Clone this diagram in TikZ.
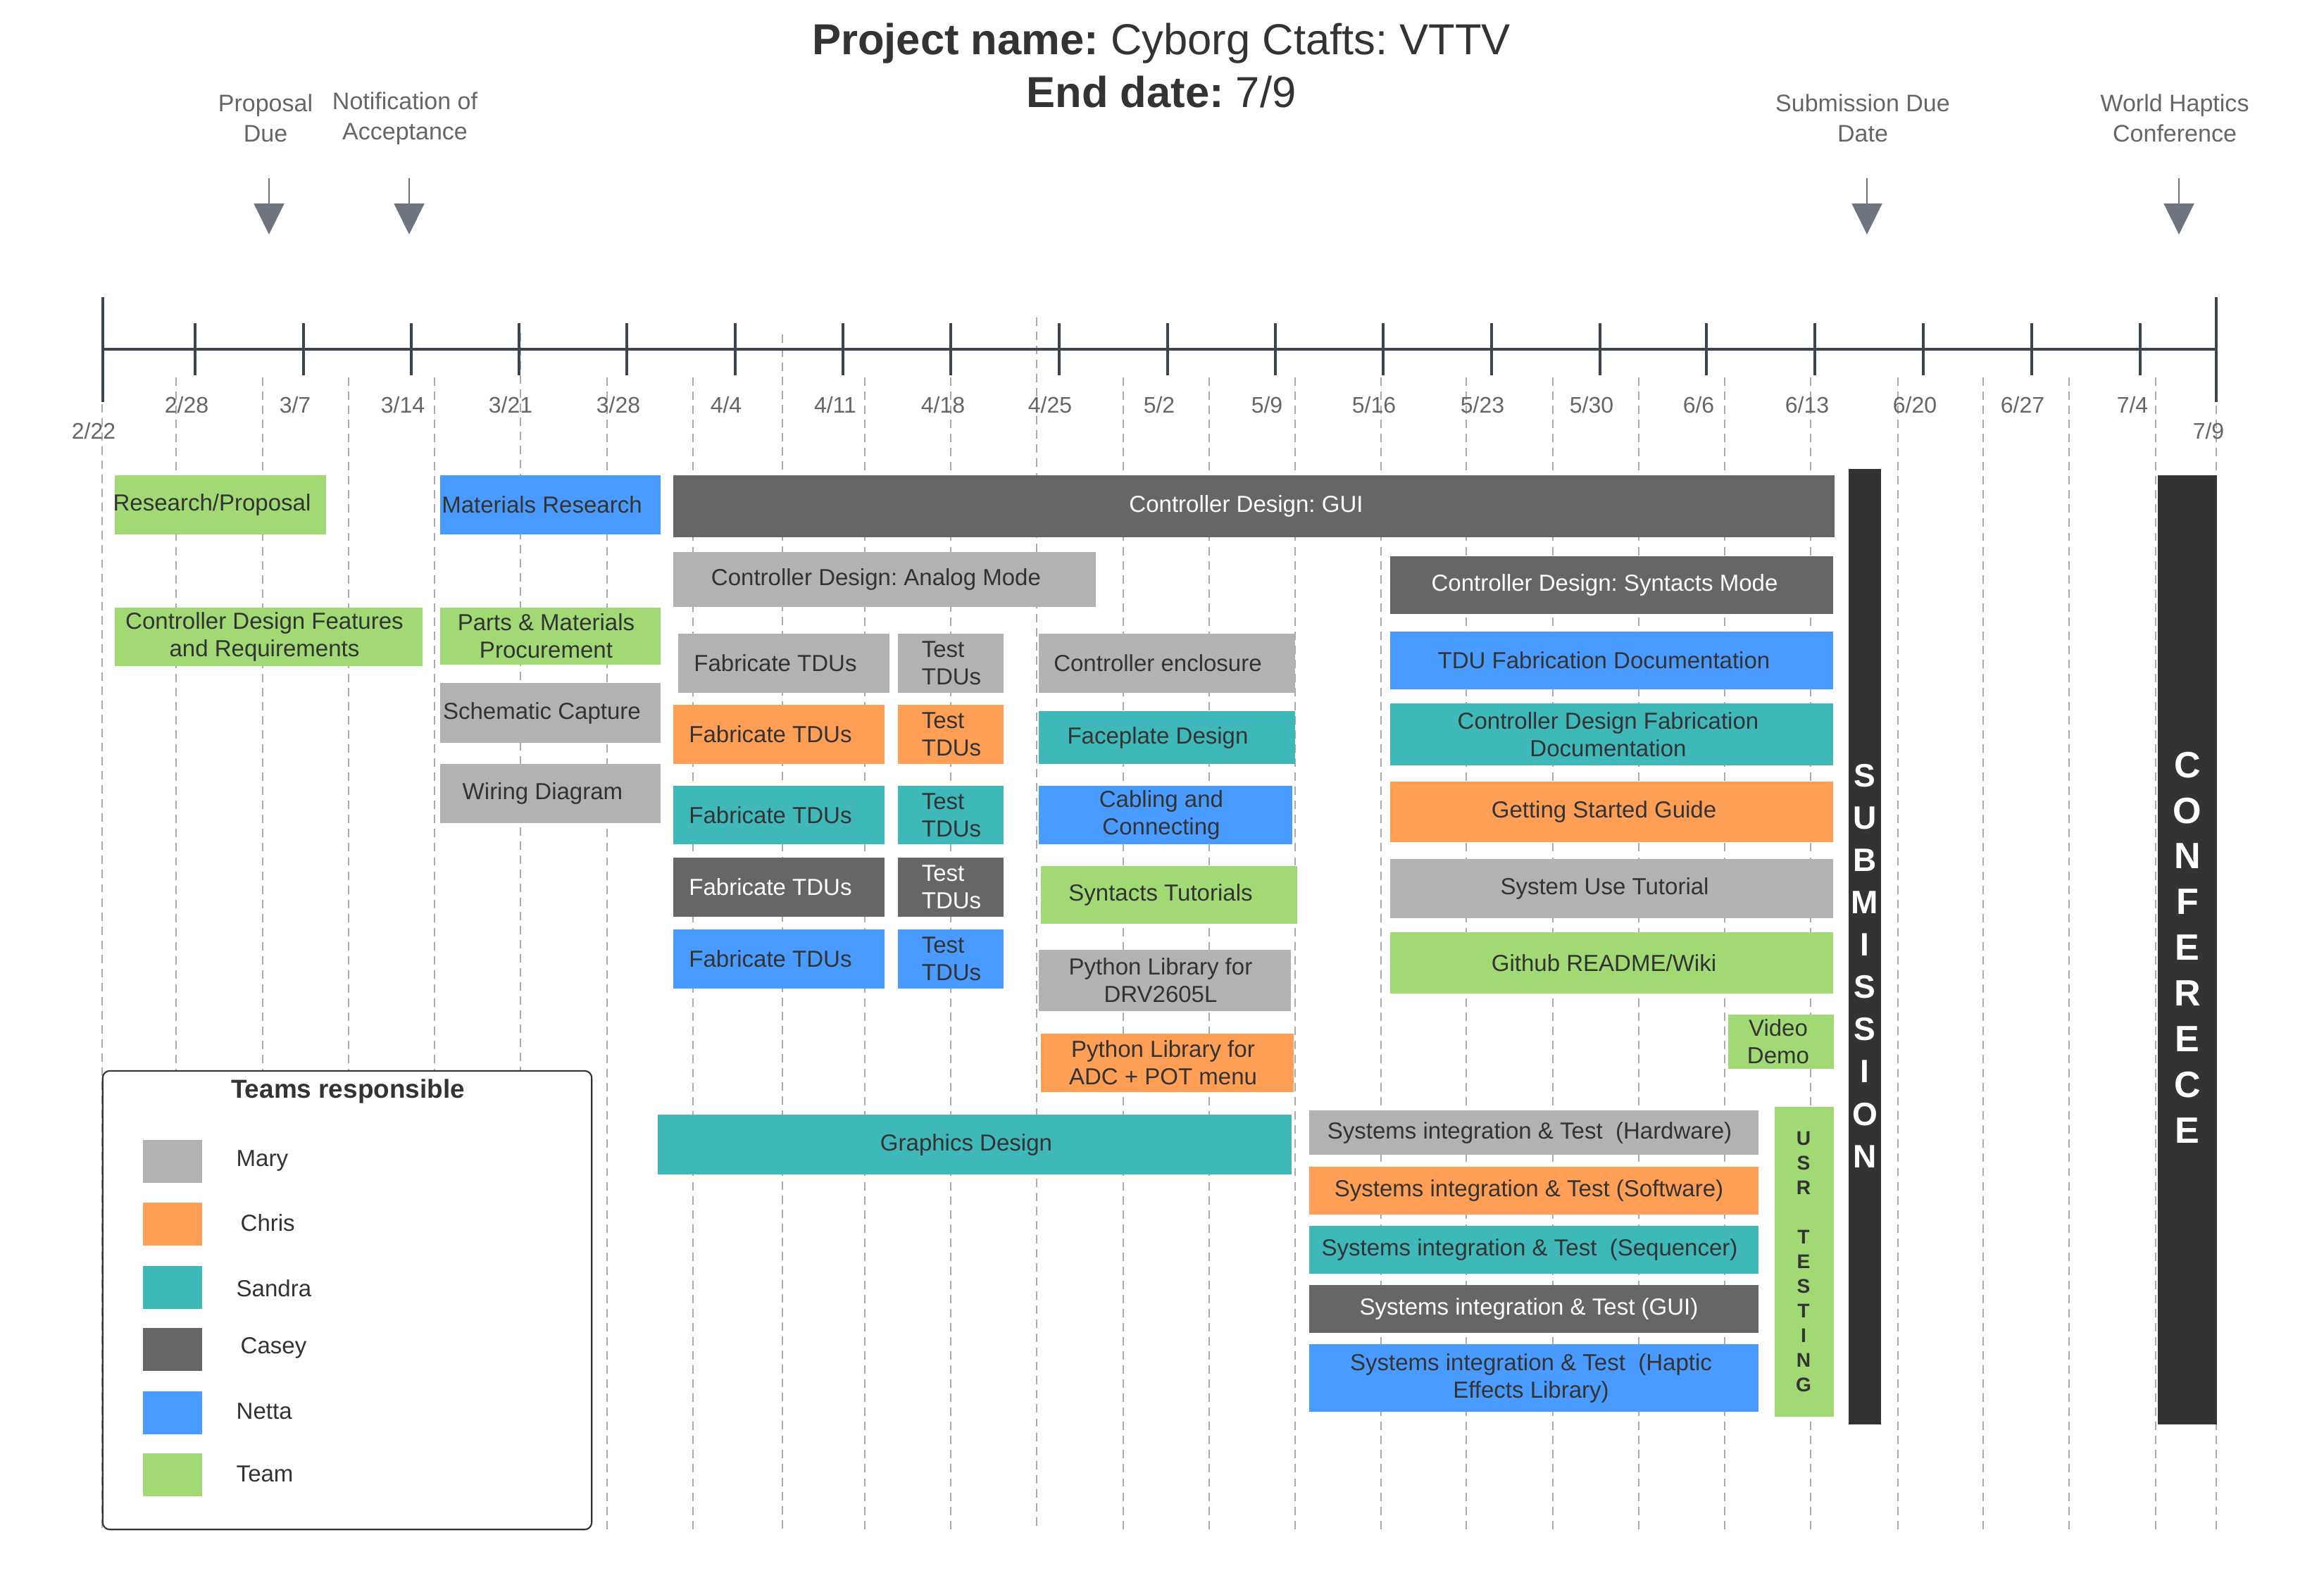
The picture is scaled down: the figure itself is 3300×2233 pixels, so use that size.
\documentclass[tikz,border=0pt]{standalone}
\usepackage{fontspec}
\setmainfont{Liberation Sans}
\usetikzlibrary{arrows.meta}
\frenchspacing
\definecolor{cMary}{HTML}{B2B2B2}
\definecolor{cChris}{HTML}{FF9F55}
\definecolor{cSandra}{HTML}{3EB8B8}
\definecolor{cCasey}{HTML}{666666}
\definecolor{cNetta}{HTML}{4A9BFF}
\definecolor{cTeam}{HTML}{A1D974}
\definecolor{cDark}{HTML}{333333}
\definecolor{cText}{HTML}{333333}
\definecolor{cLabel}{HTML}{666666}
\definecolor{cAxis}{HTML}{3B4550}
\definecolor{cArrow}{HTML}{6E757E}
\definecolor{cGrid}{HTML}{ABABAB}
\tikzset{
  taskbox/.style={draw=none, inner sep=0pt, outer sep=0pt},
  tasktext/.style={font=\fontsize{9.39}{11.1}\selectfont, align=center, inner sep=0pt, text=cText},
  wt/.style={text=white},
  dk/.style={text=cText},
  lt/.style={text=cText, align=left},
  ltw/.style={text=white, align=left},
  gridline/.style={draw=cGrid, line width=0.8pt, dash pattern=on 3.4pt off 2.3pt},
  axisline/.style={draw=cAxis, line width=1pt},
  mile/.style={draw=cArrow, line width=0.6pt, -{Triangle[length=12.5pt,width=12.2pt]}},
  milelbl/.style={font=\fontsize{9.67}{12.1}\selectfont, text=cLabel, align=center, inner sep=0pt},
  datelbl/.style={font=\fontsize{9.1}{11}\selectfont, text=cLabel, inner sep=0pt},
  swatch/.style={draw=none, minimum width=0.84cm, minimum height=0.61cm, inner sep=0pt},
  leglabel/.style={font=\fontsize{9.39}{11.1}\selectfont, text=cText, anchor=west, inner sep=0pt},
}
\newcommand\gtask[9]{%
  \node[taskbox, fill=#6, minimum width={(#4-#2)*0.01cm}, minimum height={(#5-#3)*0.01cm}] (#1) at ({(#2+#4)/2},{(#3+#5)/2}) {};
  \node[tasktext, #7] (#1-t) at ([xshift={#8*0.01cm}]#1.center) {#9};
}
\begin{document}
\frenchspacing
\begin{tikzpicture}[x=0.01cm,y=-0.01cm]
\useasboundingbox (0,0) rectangle (3300,2233);
\fill[white] (0,0) rectangle (3300,2233);
% grid
\foreach \xx/\ys in {145/574,250/536,373/536,495/536,617/536,739/473,862/536,984/536,1111/475,1228/536,1350/536,1472/451,1595/536,1717/536,1839/536,1961/536,2082/536,2205/536,2327/536,2449/536,2571/536,2695/536,2816/536,2938/536,3061/536,3147/576}
  \draw[gridline] (\xx,\ys) -- (\xx,2172);
% title
\node[font=\fontsize{17.5}{21.3}\selectfont, text=cText, align=center, inner sep=0pt] (title) at (1649,93) {\textbf{Project name:} Cyborg Ctafts: VTTV\\\textbf{End date:} 7/9};
% axis
\draw[axisline] (146,496) -- (3147,496);
\draw[axisline] (146,422) -- (146,571);
\draw[axisline] (3147,422) -- (3147,571);
\foreach \xx in {277,431,584,737,890,1044,1197,1350,1504,1658,1811,1964,2118,2272,2423,2577,2731,2885,3039}
  \draw[axisline] (\xx,459) -- (\xx,533);
% dates
\foreach \xx/\lb [count=\i] in {265/{2/28},419/{3/7},572/{3/14},725/{3/21},878/{3/28},1031/{4/4},1186/{4/11},1339/{4/18},1491/{4/25},1646/{5/2},1799/{5/9},1951/{5/16},2105/{5/23},2260/{5/30},2412/{6/6},2566/{6/13},2719/{6/20},2872/{6/27},3028/{7/4}}
  \node[datelbl] (date\i) at (\xx,575) {\lb};
\node[datelbl] (dstart) at (133,612) {2/22};
\node[datelbl] (dend) at (3136,612) {7/9};
% milestones
\node[milelbl] (ml1) at (377,168) {Proposal\\Due};
\node[milelbl] (ml2) at (575,168) {Notification of\\Acceptance};
\node[milelbl] (ml3) at (2645,168) {Submission Due\\Date};
\node[milelbl] (ml4) at (3088,168) {World Haptics\\Conference};
\coordinate (m1a) at (382,253); \coordinate (m1b) at (382,333);
\coordinate (m2a) at (581,253); \coordinate (m2b) at (581,333);
\coordinate (m3a) at (2651,253); \coordinate (m3b) at (2651,333);
\coordinate (m4a) at (3094,253); \coordinate (m4b) at (3094,333);
\draw[mile] (m1a) -- (m1b);
\draw[mile] (m2a) -- (m2b);
\draw[mile] (m3a) -- (m3b);
\draw[mile] (m4a) -- (m4b);
% column 1
\gtask{rp}{163}{675}{463}{759}{cTeam}{dk}{-12}{Research/Proposal}
\gtask{cdf}{163}{863}{600}{946}{cTeam}{dk}{-6}{Controller Design Features\\and Requirements}
% column 2
\gtask{mr}{625}{675}{938}{759}{cNetta}{dk}{-12}{Materials Research}
\gtask{pmp}{625}{863}{938}{944}{cTeam}{dk}{-6}{Parts \& Materials\\Procurement}
\gtask{sc}{625}{970}{938}{1055}{cMary}{dk}{-12}{Schematic Capture}
\gtask{wd}{625}{1085}{938}{1169}{cMary}{dk}{-11}{Wiring Diagram}
% column 3
\gtask{gui}{956}{675}{2605}{763}{cCasey}{wt}{-11}{Controller Design: GUI}
\gtask{am}{956}{784}{1556}{862}{cMary}{dk}{-12}{Controller Design: Analog Mode}
\gtask{f1}{963}{900}{1263}{984}{cMary}{dk}{-12}{Fabricate TDUs}
\gtask{t1}{1275}{900}{1425}{984}{cMary}{lt}{1}{Test\\TDUs}
\gtask{f2}{956}{1001}{1256}{1085}{cChris}{dk}{-12}{Fabricate TDUs}
\gtask{t2}{1275}{1001}{1425}{1085}{cChris}{lt}{1}{Test\\TDUs}
\gtask{f3}{956}{1116}{1256}{1199}{cSandra}{dk}{-12}{Fabricate TDUs}
\gtask{t3}{1275}{1116}{1425}{1199}{cSandra}{lt}{1}{Test\\TDUs}
\gtask{f4}{956}{1218}{1256}{1302}{cCasey}{wt}{-12}{Fabricate TDUs}
\gtask{t4}{1275}{1218}{1425}{1302}{cCasey}{ltw}{1}{Test\\TDUs}
\gtask{f5}{956}{1320}{1256}{1404}{cNetta}{dk}{-12}{Fabricate TDUs}
\gtask{t5}{1275}{1320}{1425}{1404}{cNetta}{lt}{1}{Test\\TDUs}
% column 4
\gtask{ce}{1475}{900}{1839}{984}{cMary}{dk}{-13}{Controller enclosure}
\gtask{fd}{1475}{1010}{1839}{1085}{cSandra}{dk}{-13}{Faceplate Design}
\gtask{cc}{1475}{1116}{1835}{1199}{cNetta}{dk}{-6}{Cabling and\\Connecting}
\gtask{st}{1478}{1230}{1842}{1312}{cTeam}{dk}{-12}{Syntacts Tutorials}
\gtask{pl1}{1475}{1349}{1833}{1436}{cMary}{dk}{-6}{Python Library for\\DRV2605L}
\gtask{pl2}{1478}{1468}{1837}{1551}{cChris}{dk}{-6}{Python Library for\\ADC + POT menu}
\gtask{gd}{934}{1583}{1834}{1668}{cSandra}{dk}{-12}{Graphics Design}
% column 5
\gtask{sm}{1974}{790}{2603}{872}{cCasey}{wt}{-10}{Controller Design: Syntacts Mode}
\gtask{tfd}{1974}{897}{2603}{979}{cNetta}{dk}{-11}{TDU Fabrication Documentation}
\gtask{cdfd}{1974}{999}{2603}{1087}{cSandra}{dk}{-5}{Controller Design Fabrication\\Documentation}
\gtask{gsg}{1974}{1110}{2603}{1196}{cChris}{dk}{-11}{Getting Started Guide}
\gtask{sut}{1974}{1220}{2603}{1304}{cMary}{dk}{-10}{System Use Tutorial}
\gtask{gh}{1974}{1324}{2603}{1411}{cTeam}{dk}{-11}{Github README/Wiki}
\gtask{vd}{2454}{1441}{2604}{1518}{cTeam}{dk}{-4}{Video\\Demo}
\gtask{sia}{1859}{1577}{2497}{1640}{cMary}{dk}{-6}{Systems integration \& Test\ \ (Hardware)}
\gtask{sib}{1859}{1657}{2497}{1725}{cChris}{dk}{-7}{Systems integration \& Test (Software)}
\gtask{sic}{1859}{1741}{2497}{1809}{cSandra}{dk}{-6}{Systems integration \& Test\ \ (Sequencer)}
\gtask{sid}{1859}{1825}{2497}{1893}{cCasey}{wt}{-7}{Systems integration \& Test (GUI)}
\gtask{sie}{1859}{1909}{2497}{2005}{cNetta}{dk}{-4}{Systems integration \& Test\ \ (Haptic\\Effects Library)}
% vertical bars
\node[taskbox, fill=cTeam, minimum width=0.84cm, minimum height=4.40cm] (usr) at (2562,1792) {};
\node[font=\bfseries\fontsize{8.0}{9.96}\selectfont, text=cText, align=center, inner sep=0pt] (usr-t) at (2561,1792) {U\\S\\R\\\mbox{}\\T\\E\\S\\T\\I\\N\\G};
\node[taskbox, fill=cDark, minimum width=0.46cm, minimum height=13.57cm] (sub) at (2648,1344.5) {};
\node[font=\bfseries\fontsize{13.1}{17.1}\selectfont, text=white, align=center, inner sep=0pt] (sub-t) at (2648,1371.5) {S\\U\\B\\M\\I\\S\\S\\I\\O\\N};
\node[taskbox, fill=cDark, minimum width=0.84cm, minimum height=13.48cm] (conf) at (3106,1349) {};
\node[font=\bfseries\fontsize{14.8}{18.44}\selectfont, text=white, align=center, inner sep=0pt] (conf-t) at (3106,1345.5) {C\\O\\N\\F\\E\\R\\E\\C\\E};
% legend
\node[draw=cDark, line width=0.6pt, rounded corners=0.1cm, fill=white, minimum width=6.94cm, minimum height=6.51cm, inner sep=0pt] (legend) at (493,1846.5) {};
\node[font=\bfseries\fontsize{10.5}{12.6}\selectfont, text=cText, inner sep=0pt] (legtitle) at (494,1550) {Teams responsible};
\node[swatch, fill=cMary] (sw1) at (245,1649.5) {};
\node[swatch, fill=cChris] (sw2) at (245,1738.5) {};
\node[swatch, fill=cSandra] (sw3) at (245,1828) {};
\node[swatch, fill=cCasey] (sw4) at (245,1916) {};
\node[swatch, fill=cNetta] (sw5) at (245,2006) {};
\node[swatch, fill=cTeam] (sw6) at (245,2094.5) {};
\node[leglabel] (lb1) at (335,1649) {Mary};
\node[leglabel] (lb2) at (341,1737) {Chris};
\node[leglabel] (lb3) at (335,1830) {Sandra};
\node[leglabel] (lb4) at (341,1914) {Casey};
\node[leglabel] (lb5) at (335,2004) {Netta};
\node[leglabel] (lb6) at (335,2093) {Team};
\end{tikzpicture}
\end{document}
